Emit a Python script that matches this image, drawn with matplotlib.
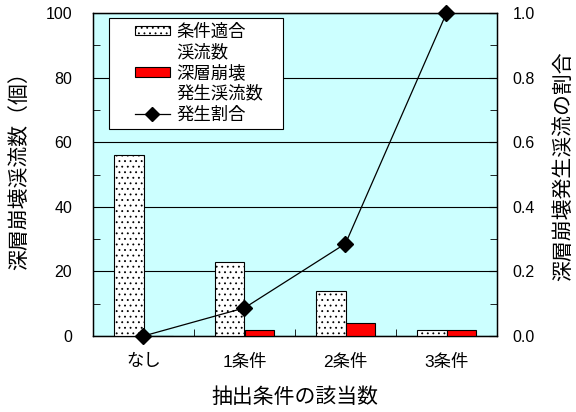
import matplotlib
matplotlib.use("Agg")
import matplotlib.pyplot as plt
import numpy as np
from matplotlib.lines import Line2D
from matplotlib.patches import Patch, Rectangle
from matplotlib.ticker import FormatStrFormatter

plt.rcParams['font.family'] = ['Liberation Sans', 'Noto Sans CJK JP', 'DejaVu Sans']
plt.rcParams['hatch.linewidth'] = 0.6

categories = ['なし', '1条件', '2条件', '3条件']
matching_streams = [56, 23, 14, 2]
failure_streams = [0, 2, 4, 2]
occurrence_ratio = [0.0, 0.087, 0.286, 1.0]

fig = plt.figure(figsize=(5.76, 4.12), dpi=100)
ax = fig.add_axes([93/576, 1 - 336/412, (497-93)/576, (336-13)/412])
ax.set_facecolor('#CCFFFF')

x = np.arange(len(categories))
w = 0.29
ax.bar(x - w/2, matching_streams, width=w, facecolor='white', edgecolor='black',
       hatch='...', linewidth=0.8, zorder=3)
ax.bar(x + w/2, failure_streams, width=w, facecolor='#FF0000', edgecolor='black',
       linewidth=0.8, zorder=3)

ax.set_xlim(-0.5, len(categories) - 0.5)
ax.set_ylim(0, 100)
ax.set_yticks(np.arange(0, 101, 20))
ax.set_yticks(np.arange(0, 101, 10), minor=True)
ax.yaxis.grid(True, which='major', color='black', linewidth=0.8, zorder=1)
ax.set_axisbelow(True)
ax.set_xticks(x)
ax.set_xticklabels(categories, fontsize=12.5)
ax.set_xticks(np.arange(0.5, len(categories) - 1, 1), minor=True)
ax.tick_params(axis='x', which='major', length=0, pad=13)
ax.tick_params(axis='x', which='minor', direction='in', length=5)
ax.tick_params(axis='y', which='both', direction='in', labelsize=11.5, pad=15)
ax.tick_params(axis='y', which='major', length=0)
ax.tick_params(axis='y', which='minor', length=5)
ax.set_xlabel('抽出条件の該当数', fontsize=15)
ax.xaxis.label.set_va('center')
ax.xaxis.set_label_coords(0.5, (336 - 397) / 323)
ax.set_ylabel('深層崩壊渓流数（個）', fontsize=15)
ax.yaxis.label.set_va('center')
ax.yaxis.set_label_coords((19 - 93) / 404, (336 - 166) / 323)
for s in ax.spines.values():
    s.set_linewidth(1.0)

ax2 = ax.twinx()
ax2.plot(x, occurrence_ratio, color='black', linewidth=0.9, marker='D',
         markersize=8, markerfacecolor='black', zorder=5, clip_on=False)
ax2.set_ylim(0, 1.0)
ax2.set_yticks(np.arange(0, 1.01, 0.2))
ax2.set_yticks(np.arange(0, 1.01, 0.1), minor=True)
ax2.yaxis.set_major_formatter(FormatStrFormatter('%.1f'))
ax2.tick_params(axis='y', which='both', direction='in', labelsize=11.5, pad=11)
ax2.tick_params(axis='y', which='major', length=6)
ax2.tick_params(axis='y', which='minor', length=5)
ax2.set_ylabel('深層崩壊発生渓流の割合', fontsize=15)
ax2.yaxis.label.set_va('center')
ax2.yaxis.set_label_coords((563 - 93) / 404, (336 - 166) / 323)

# legend box drawn as a white framed rectangle behind a frameless legend
box = Rectangle(((109 - 93) / 404, (336 - 129) / 323), (283 - 109) / 404, (129 - 18) / 323,
                transform=ax2.transAxes, facecolor='white', edgecolor='black',
                linewidth=0.8, zorder=6)
ax2.add_patch(box)

blank = Patch(facecolor='none', edgecolor='none')
handles = [
    Patch(facecolor='white', edgecolor='black', hatch='...', linewidth=0.8),
    blank,
    Patch(facecolor='#FF0000', edgecolor='black', linewidth=0.8),
    blank,
    Line2D([0], [0], color='black', linewidth=0.9, marker='D', markersize=7,
           markerfacecolor='black'),
]
labels = ['条件適合', '渓流数', '深層崩壊', '発生渓流数', '発生割合']
leg = ax2.legend(handles, labels, loc='upper left',
                 bbox_to_anchor=((135 - 93) / 404, (336 - 23) / 323),
                 prop={'family': ['Noto Sans CJK JP', 'DejaVu Sans'], 'size': 12.5},
                 frameon=False, borderpad=0.0, borderaxespad=0.0,
                 labelspacing=0.15, handlelength=2.0, handleheight=0.45,
                 handletextpad=0.4)
leg.set_zorder(7)

fig.savefig('out.png', dpi=100)
